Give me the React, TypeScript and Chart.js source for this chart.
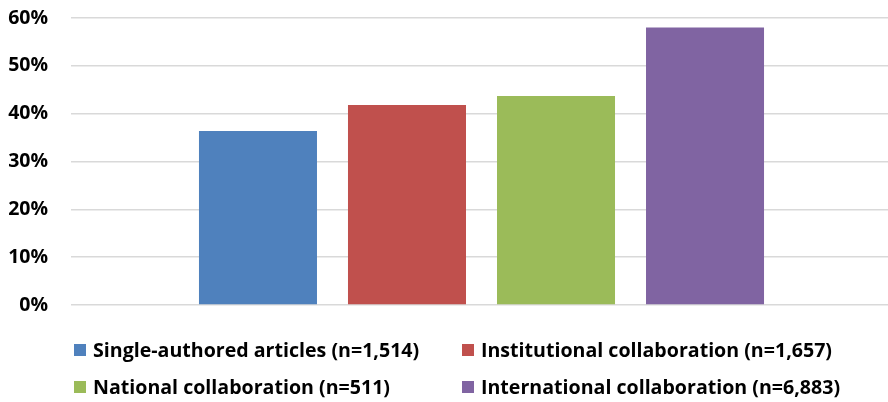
import React, { useEffect, useRef } from "react";
import { Chart, registerables } from "chart.js";

Chart.register(...registerables);

const categories = [""];
const seriesLabels = [
  "Single-authored articles (n=1,514)",
  "Institutional collaboration (n=1,657)",
  "National collaboration (n=511)",
  "International collaboration (n=6,883)",
];
const seriesValues = [36.4, 41.8, 43.7, 58.0];
const seriesColors = ["#4F81BD", "#C0504D", "#9BBB59", "#8064A2"];
const yMax = 60;
const yStep = 10;

const FONT = "'Open Sans', Lato, sans-serif";

export default function App() {
  const ref = useRef<HTMLCanvasElement | null>(null);

  useEffect(() => {
    if (!ref.current) return;
    const chart = new Chart(ref.current, {
      type: "bar",
      data: {
        labels: categories,
        datasets: seriesLabels.map((label, i) => ({
          label,
          data: [seriesValues[i]],
          backgroundColor: seriesColors[i],
          borderWidth: 0,
          categoryPercentage: 0.726,
          barPercentage: 0.792,
        })),
      },
      options: {
        animation: false,
        responsive: false,
        maintainAspectRatio: false,
        layout: { padding: { top: 18, right: 0, bottom: 97, left: 0 } },
        plugins: {
          legend: { display: false },
          tooltip: { enabled: false },
        },
        scales: {
          x: { display: false },
          y: {
            min: 0,
            max: yMax,
            afterFit: (scale: any) => {
              scale.width = 71;
              scale.paddingTop = 0;
              scale.paddingBottom = 0;
            },
            border: { display: false },
            grid: { color: "#D9D9D9", lineWidth: 1.5, drawTicks: false },
            ticks: {
              stepSize: yStep,
              padding: 23,
              color: "#000",
              font: { family: FONT, size: 19.5, weight: "bold" },
              callback: (v: any) => `${v}%`,
            },
          },
        },
      },
    });
    return () => chart.destroy();
  }, []);

  return (
    <div style={{ position: "absolute", left: 0, top: 0, width: 888, height: 402, overflow: "hidden" }}>
      <canvas ref={ref} width={892} height={402} style={{ display: "block" }} />
      <div
        style={{
          position: "absolute",
          left: 74,
          top: 331,
          display: "grid",
          gridTemplateColumns: "388px 388px",
          gridAutoRows: "37px",
          fontFamily: FONT,
          fontWeight: "bold",
          fontSize: 19.6,
          color: "#000",
        }}
      >
        {seriesLabels.map((label, i) => (
          <div key={label} style={{ display: "flex", alignItems: "center", whiteSpace: "nowrap" }}>
            <span
              style={{
                display: "inline-block",
                width: 12,
                height: 12,
                background: seriesColors[i],
                marginRight: 7,
              }}
            />
            <span>{label}</span>
          </div>
        ))}
      </div>
    </div>
  );
}
